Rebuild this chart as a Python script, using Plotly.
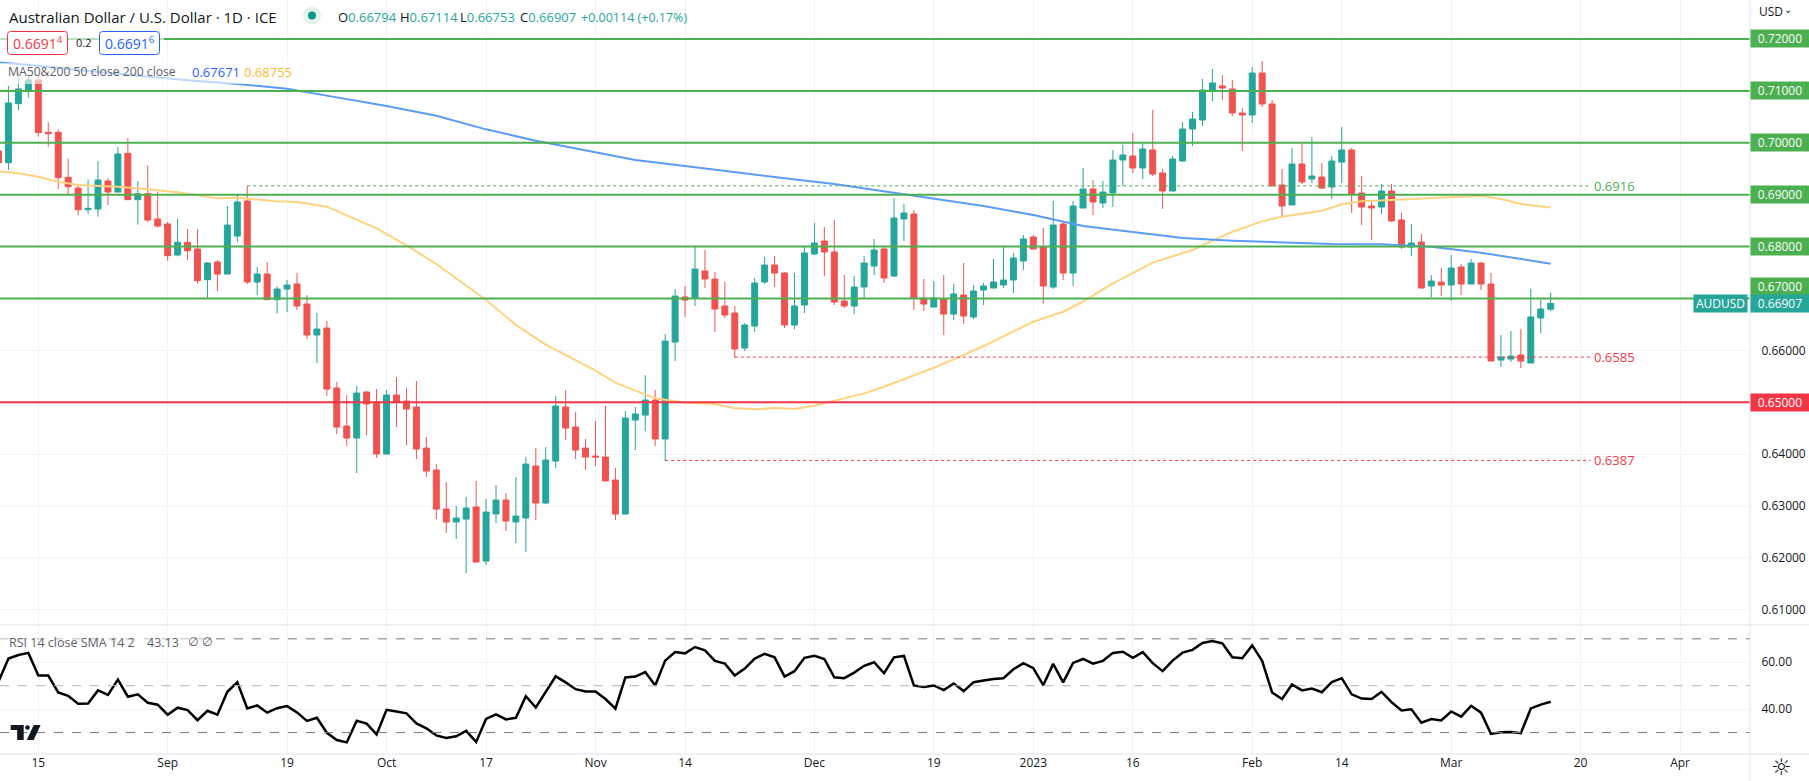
import pandas as pd
import plotly.graph_objects as go
from plotly.subplots import make_subplots

W, H = 1809, 781
PLOT_W, PLOT_H = 1750, 754
FONT = "Open Sans"

UP = "#26a69a"
DOWN = "#ef5350"
GREEN = "#4caf50"
RED = "#f23645"
GRID = "#f0f3fa"
BORDER = "#e0e3eb"
TEXT = "#131722"

# one business day per bar, the tail has no prices (empty space on the right)
all_dates = pd.bdate_range("2022-08-09", "2023-04-12").strftime("%Y-%m-%d").tolist()

open_ = [
    .69842, .69617, .70754, .71018, .71210, .70201, .70201, .69334, .69128, .68711,
    .68724, .69263, .69051, .69796, .68904, .69019, .68531, .68435, .67837, .68082,
    .67953, .67362, .67703, .67471, .68203, .68878, .67317, .67471, .66977, .67182,
    .67279, .66893, .66296, .66431, .65275, .64542, .64311, .65198, .65005, .64003,
    .65140, .65024, .64909, .64118, .63695, .62943, .62693, .62750, .62982, .61941,
    .62847, .63116, .62693, .62770, .63772, .63059, .63868, .64909, .64523, .64118,
    .63964, .63945, .63502, .62847, .64658, .64754, .65043, .64292, .66161, .67028,
    .67009, .67529, .67375, .66855, .66720, .66045, .66469, .67317, .67645, .67491,
    .66489, .66874, .67857, .68107, .67895, .66951, .66855, .67221, .67625, .67953,
    .67433, .68531, .68627, .67009, .66835, .66990, .66701, .67067, .66643, .67163,
    .67201, .67259, .67356, .67722, .68184, .67992, .67221, .68435, .67491, .68743,
    .69109, .68839, .69032, .69668, .69745, .69514, .69861, .69417, .69071, .69649,
    .70265, .70439, .71017, .71094, .71036, .70574, .70535, .71344, .70747, .69186,
    .68801, .69591, .69302, .69340, .69148, .69629, .69861, .69032, .68782, .68762,
    .69071, .68512, .67992, .68088, .67240, .67317, .67259, .67606, .67279, .67683,
    .67279, .65814, .65833, .65911, .65756, .66624, .66794,
]
high = [
    .69880, .71095, .71371, .71307, .71262, .70394, .70259, .69700, .69199, .69295,
    .69642, .69315, .69918, .70092, .69257, .69565, .69058, .68473, .68544, .68338,
    .68338, .67703, .67741, .68782, .68994, .69173, .67606, .67703, .67240, .67356,
    .67491, .67067, .66720, .66566, .65390, .65140, .65313, .65217, .65255, .65236,
    .65487, .65275, .65409, .64330, .63810, .63463, .63001, .63174, .63483, .63136,
    .63406, .63251, .63560, .63945, .64118, .64138, .65120, .65236, .64812, .64292,
    .64639, .64928, .63733, .64831, .64909, .65525, .65236, .66315, .67182, .67240,
    .68011, .67934, .67510, .67317, .66855, .66527, .67394, .67799, .67818, .67510,
    .67491, .68011, .68454, .68377, .68512, .67452, .67433, .67818, .68146, .67992,
    .68936, .68820, .68705, .67375, .67336, .67452, .67279, .67683, .67259, .67298,
    .67760, .68011, .67876, .68223, .68223, .68358, .68878, .68473, .68878, .69514,
    .69283, .69263, .69861, .69957, .70188, .69976, .70631, .69495, .69745, .70400,
    .70593, .71229, .71421, .71306, .71209, .70670, .71460, .71576, .70824, .69495,
    .69899, .69976, .70111, .69610, .69745, .70304, .69899, .69360, .68859, .69206,
    .69206, .68647, .68435, .68242, .67452, .67587, .67837, .67664, .67760, .67703,
    .67491, .66296, .66373, .66411, .67182, .66970, .67114,
]
low = [
    .69572, .69476, .70632, .70870, .70119, .69925, .69109, .68994, .68608, .68627,
    .68576, .68801, .69045, .68897, .68422, .68473, .68364, .67728, .67812, .67741,
    .67285, .67015, .67144, .67471, .68088, .67279, .67067, .66977, .66707, .66739,
    .66778, .66219, .65756, .65120, .64388, .64157, .63637, .64369, .63926, .64003,
    .64523, .64176, .63907, .63560, .62750, .62481, .62365, .61710, .61922, .61864,
    .62673, .62519, .62288, .62115, .62731, .63039, .63733, .64273, .63907, .63695,
    .63772, .63483, .62731, .62847, .64080, .64446, .64157, .63868, .65795, .66643,
    .66855, .67201, .66354, .66624, .65853, .65988, .66354, .67279, .67221, .66431,
    .66411, .66720, .67837, .67433, .66874, .66816, .66701, .67009, .67452, .67298,
    .67413, .68107, .66778, .66758, .66835, .66296, .66585, .66508, .66604, .66874,
    .67201, .67201, .67105, .67548, .67953, .66893, .67182, .67356, .67240, .68743,
    .68608, .68743, .68762, .69167, .69417, .69302, .69360, .68724, .69071, .69629,
    .69938, .70323, .70805, .70824, .70516, .69841, .70381, .70689, .69167, .68570,
    .68801, .69206, .69225, .69109, .68916, .69225, .68647, .68415, .68126, .68627,
    .68473, .67953, .67818, .67201, .67028, .67047, .66951, .67067, .67279, .67163,
    .65795, .65679, .65776, .65660, .65756, .66334, .66753,
]
close = [
    .69617, .70767, .71037, .71210, .70196, .70175, .69328, .69154, .68711, .68737,
    .69283, .69051, .69784, .68904, .69019, .68512, .68396, .67825, .68082, .67921,
    .67343, .67683, .67471, .68415, .68859, .67317, .67471, .66977, .67182, .67259,
    .66855, .66296, .66411, .65255, .64523, .64311, .65178, .64966, .64003, .65140,
    .65005, .64870, .64099, .63675, .62943, .62693, .62770, .62962, .61922, .62885,
    .63116, .62712, .62808, .63810, .63059, .63887, .64928, .64504, .64080, .63945,
    .63945, .63483, .62847, .64697, .64774, .65043, .64292, .66180, .67047, .66970,
    .67568, .67375, .66797, .66681, .66026, .66489, .67298, .67645, .67491, .66489,
    .66855, .67876, .68069, .67895, .66932, .66855, .67221, .67683, .67934, .67394,
    .68550, .68647, .67009, .66893, .67009, .66701, .67086, .66662, .67144, .67240,
    .67317, .67356, .67780, .68146, .67953, .67240, .68415, .67491, .68782, .69109,
    .68859, .69051, .69668, .69764, .69514, .69880, .69398, .69071, .69687, .70265,
    .70458, .71017, .71152, .71055, .70574, .70535, .71344, .70747, .69167, .68782,
    .69591, .69244, .69360, .69128, .69649, .69861, .69013, .68762, .68743, .69071,
    .68493, .67992, .68069, .67201, .67336, .67259, .67587, .67279, .67683, .67279,
    .65795, .65872, .65891, .65795, .66643, .66797, .66907,
]

rsi = [
    51.8, 61.6, 63.1, 64.0, 54.3, 54.3, 47.1, 45.7, 42.3, 42.4,
    48.0, 46.1, 52.6, 45.3, 46.3, 42.7, 41.9, 37.6, 40.6, 39.6,
    35.3, 39.3, 37.6, 47.4, 51.5, 40.3, 41.6, 38.5, 40.4, 41.3,
    38.6, 35.0, 36.3, 29.9, 26.8, 25.8, 35.0, 33.8, 29.2, 39.7,
    39.0, 38.2, 33.9, 31.8, 28.8, 27.7, 28.4, 30.7, 26.0, 35.8,
    37.8, 35.6, 36.3, 45.5, 40.7, 47.2, 54.0, 51.4, 48.5, 47.5,
    47.5, 44.3, 40.2, 53.5, 53.9, 55.8, 50.1, 60.7, 64.4, 63.8,
    66.5, 65.1, 60.6, 59.4, 54.3, 57.3, 61.6, 63.6, 62.1, 53.9,
    56.2, 61.9, 62.8, 61.4, 53.6, 53.2, 55.6, 58.5, 60.0, 55.3,
    62.1, 62.7, 50.1, 49.4, 50.1, 48.1, 50.9, 47.7, 51.5, 52.2,
    52.9, 53.2, 57.0, 59.6, 57.5, 50.2, 59.3, 51.4, 59.7, 61.4,
    59.4, 60.6, 64.0, 64.5, 61.9, 64.3, 59.6, 56.2, 60.7, 64.1,
    65.3, 68.2, 69.1, 68.1, 62.1, 61.7, 67.2, 60.6, 47.1, 44.3,
    50.5, 48.0, 48.8, 47.2, 51.5, 53.2, 46.3, 44.5, 44.3, 47.4,
    43.0, 39.4, 39.9, 34.2, 35.8, 35.2, 39.0, 36.8, 41.4, 38.5,
    29.4, 30.1, 30.2, 29.7, 40.3, 41.9, 43.13,
]

ma200_dates = [
    "2022-08-09", "2022-08-15", "2022-08-22", "2022-08-29", "2022-09-05", "2022-09-12",
    "2022-09-19", "2022-09-26", "2022-10-03", "2022-10-10", "2022-10-17", "2022-10-24",
    "2022-10-31", "2022-11-07", "2022-11-14", "2022-11-21", "2022-11-28", "2022-12-05",
    "2022-12-12", "2022-12-19", "2022-12-26", "2023-01-02", "2023-01-09", "2023-01-16",
    "2023-01-23", "2023-01-30", "2023-02-06", "2023-02-13", "2023-02-20", "2023-02-27",
    "2023-03-06", "2023-03-13", "2023-03-15",
]
ma200 = [
    .71550, .71486, .71383, .71287, .71203, .71132,
    .71042, .70875, .70708, .70522, .70259, .70040,
    .69854, .69668, .69552, .69430, .69315, .69205,
    .69064, .68936, .68782, .68608, .68396, .68281,
    .68165, .68114, .68088, .68049, .68043, .67998,
    .67882, .67735, .67671,
]
ma50_dates = [
    "2022-08-09", "2022-08-11", "2022-08-15", "2022-08-17", "2022-08-19", "2022-08-25",
    "2022-08-30", "2022-09-02", "2022-09-08", "2022-09-12", "2022-09-16", "2022-09-20",
    "2022-09-23", "2022-09-27", "2022-09-30", "2022-10-05", "2022-10-10", "2022-10-17",
    "2022-10-20", "2022-10-25", "2022-10-28", "2022-11-01", "2022-11-03", "2022-11-07",
    "2022-11-09", "2022-11-14", "2022-11-17", "2022-11-21", "2022-11-23", "2022-11-25",
    "2022-11-29", "2022-12-01", "2022-12-05", "2022-12-08", "2022-12-12", "2022-12-15",
    "2022-12-19", "2022-12-21", "2022-12-26", "2023-01-02", "2023-01-05", "2023-01-09",
    "2023-01-12", "2023-01-18", "2023-01-24", "2023-01-30", "2023-02-02", "2023-02-06",
    "2023-02-08", "2023-02-10", "2023-02-14", "2023-02-16", "2023-02-21", "2023-02-27",
    "2023-03-06", "2023-03-08", "2023-03-10", "2023-03-15",
]
ma50 = [
    .69450, .69411, .69347, .69250, .69186, .69154,
    .69103, .69045, .68929, .68942, .68872, .68859,
    .68769, .68608, .68351, .68024, .67664, .66970,
    .66489, .66110, .65814, .65609, .65377, .65223,
    .65076, .64992, .64966, .64883, .64864, .64889,
    .64870, .64934, .65024, .65172, .65300, .65512,
    .65666, .65827, .66084, .66553, .66745, .66938,
    .67291, .67690, .67934, .68287, .68486, .68576,
    .68640, .68692, .68814, .68872, .68897, .68929,
    .68981, .68916, .68820, .68755,
]

# round level lines and their price-scale labels
green_levels = [0.72, 0.71, 0.70, 0.69, 0.68, 0.67]
red_levels = [0.65]
price_ticks = [0.61, 0.62, 0.63, 0.64, 0.66]
rsi_ticks = [40, 60]

swing_levels = [0.6917, 0.6587, 0.6388]
swing_labels = ["0.6916", "0.6585", "0.6387"]
swing_starts = ["2022-09-13", "2022-11-21", "2022-11-10"]
swing_colors = [GREEN, RED, RED]
swing_end = "2023-03-21"

tick_dates = [
    "2022-08-15", "2022-09-01", "2022-09-19", "2022-10-03", "2022-10-17", "2022-11-01",
    "2022-11-14", "2022-12-01", "2022-12-19", "2023-01-02", "2023-01-16", "2023-02-01",
    "2023-02-14", "2023-03-01", "2023-03-20", "2023-04-03",
]
tick_labels = ["15", "Sep", "19", "Oct", "17", "Nov", "14", "Dec", "19", "2023", "16",
               "Feb", "14", "Mar", "20", "Apr"]

ohlc_names = ["O", "H", "L", "C"]
ohlc_values = ["0.66794", "0.67114", "0.66753", "0.66907"]


def px(x):
    return x / PLOT_W


def py(y):
    return (PLOT_H - y) / PLOT_H


def note(text, x, y, color=TEXT, size=13, anchor="left", family=FONT):
    fig.add_annotation(text=text, x=px(x), y=py(y), xref="paper", yref="paper", showarrow=False,
                       xanchor=anchor, yanchor="middle", font=dict(family=family, size=size, color=color))


def mask(x0, y0, x1, y1, opacity=0.6):
    fig.add_shape(type="rect", xref="paper", yref="paper", x0=px(x0), x1=px(x1), y0=py(y0), y1=py(y1),
                  fillcolor="white", opacity=opacity, line_width=0)


def round_box(x0, y0, x1, y1, color, r=3):
    a, b, c, d = px(x0), px(x1), py(y0), py(y1)
    rx, ry = r / PLOT_W, r / PLOT_H
    path = (f"M {a+rx} {c} L {b-rx} {c} Q {b} {c} {b} {c-ry} L {b} {d+ry} Q {b} {d} {b-rx} {d} "
            f"L {a+rx} {d} Q {a} {d} {a} {d+ry} L {a} {c-ry} Q {a} {c} {a+rx} {c} Z")
    fig.add_shape(type="path", path=path, xref="paper", yref="paper", fillcolor="white",
                  line=dict(color=color, width=1))


def price_label(level, bg, yshift=0):
    fig.add_annotation(text=f"{level:.5f}", x=1, y=level, xref="paper", yref="y", xanchor="left",
                       yanchor="middle", yshift=yshift, showarrow=False, bgcolor=bg, width=56, height=15,
                       font=dict(family=FONT, size=12, color="white"))


fig = make_subplots(rows=2, cols=1, shared_xaxes=True, vertical_spacing=0, row_heights=[625, 129])

n_bars = len(close)
fig.add_trace(go.Candlestick(
    x=all_dates[:n_bars], open=open_, high=high, low=low, close=close,
    increasing=dict(line=dict(color=UP, width=1), fillcolor=UP),
    decreasing=dict(line=dict(color=DOWN, width=1), fillcolor=DOWN),
    whiskerwidth=0,
), row=1, col=1)
fig.add_trace(go.Scatter(x=ma50_dates, y=ma50, mode="lines", line=dict(color="#ffd27f", width=2)), row=1, col=1)
fig.add_trace(go.Scatter(x=ma200_dates, y=ma200, mode="lines", line=dict(color="#5b9cf6", width=2)), row=1, col=1)
fig.add_trace(go.Scatter(x=all_dates[:n_bars], y=rsi, mode="lines", line=dict(color="black", width=2.5)), row=2, col=1)

# level lines
for level in green_levels:
    fig.add_shape(type="line", xref="x domain", yref="y", x0=0, x1=1, y0=level, y1=level,
                  line=dict(color=GREEN, width=2))
for level in red_levels:
    fig.add_shape(type="line", xref="x domain", yref="y", x0=0, x1=1, y0=level, y1=level,
                  line=dict(color=RED, width=2))
for level, label, start, color in zip(swing_levels, swing_labels, swing_starts, swing_colors):
    fig.add_shape(type="line", xref="x", yref="y", x0=start, x1=swing_end, y0=level, y1=level,
                  line=dict(color=color, width=1, dash="dot"))
    fig.add_annotation(text=label, x=swing_end, y=level, xref="x", yref="y", xanchor="left", yanchor="middle",
                       xshift=1, showarrow=False, font=dict(family=FONT, size=13, color=color))

# rsi bands
for value, color in zip([70, 50, 30], ["#787b86", "#b2b5be", "#787b86"]):
    fig.add_shape(type="line", xref="x2 domain", yref="y2", x0=0, x1=1, y0=value, y1=value,
                  line=dict(color=color, width=1, dash="dash"))

# pane separators and price-scale border
fig.add_shape(type="line", xref="paper", yref="paper", x0=0, x1=W / PLOT_W, y0=py(625), y1=py(625),
              line=dict(color=BORDER, width=1))
fig.add_shape(type="line", xref="paper", yref="paper", x0=0, x1=W / PLOT_W, y0=py(754), y1=py(754),
              line=dict(color=BORDER, width=1))
fig.add_shape(type="line", xref="paper", yref="paper", x0=1, x1=1, y0=py(H), y1=1,
              line=dict(color=BORDER, width=1))

# legend backdrops
mask(0, 30, 164, 56)
mask(0, 63, 290, 84)
mask(0, 634, 207, 650, opacity=0.5)

# header
note("Australian Dollar / U.S. Dollar · 1D · ICE", 6.5, 17, size=15)
fig.add_shape(type="circle", xref="paper", yref="paper", x0=px(303), x1=px(321), y0=py(6.5), y1=py(24.5),
              fillcolor="#e3f3f0", line_width=0)
fig.add_shape(type="circle", xref="paper", yref="paper", x0=px(308), x1=px(316), y0=py(11.5), y1=py(19.5),
              fillcolor="#089981", line_width=0)
for name, value, x in zip(ohlc_names, ohlc_values, [336, 398, 458, 518]):
    note(f'{name}<span style="color:{UP}">{value}</span>', x, 17, size=13)
note("+0.00114 (+0.17%)", 579, 17, color=UP, size=12.5)

round_box(7.5, 31.5, 67.5, 54.5, RED)
note("0.6691<sup>4</sup>", 37.5, 43, color=RED, size=14, anchor="center")
note("0.2", 83.5, 43, size=11, anchor="center")
round_box(99.5, 31.5, 159.5, 54.5, "#2962ff")
note("0.6691<sup>6</sup>", 129.5, 43, color="#2962ff", size=14, anchor="center")

note("MA50&200 50 close 200 close", 6, 72, color="#5d606b", size=12.2)
note("0.67671", 190, 72, color="#2962ff", size=13)
note("0.68755", 242, 72, color="#ffb92e", size=13)
note("RSI 14 close SMA 14 2", 6.5, 642, color="#5d606b", size=12.5)
note("43.13", 145, 642, color="#5d606b", size=12.5)
note("∅", 186, 642, color="#5d606b", size=12, family="DejaVu Sans")
note("∅", 200, 642, color="#5d606b", size=12, family="DejaVu Sans")

# price-scale labels
for level in green_levels:
    price_label(level, GREEN, yshift=12 if level == 0.67 else 0)
for level in red_levels:
    price_label(level, RED)
price_label(close[-1], UP)
fig.add_annotation(text="AUDUSD", x=1748 / PLOT_W, y=close[-1], xref="paper", yref="y", xanchor="right",
                   yanchor="middle", showarrow=False, bgcolor=UP, width=51, height=15,
                   font=dict(family=FONT, size=12, color="white"))
note("USD", 1757, 12, size=12)
note("⌄", 1782, 9, size=10, family="DejaVu Sans")
note("☼", 1781, 767, size=23, anchor="center", family="DejaVu Sans")

# tradingview mark
fig.add_shape(type="path", xref="paper", yref="paper", fillcolor=TEXT, line_width=0,
              path=f"M {px(10.7)} {py(725)} L {px(23.7)} {py(725)} L {px(23.7)} {py(740)} L {px(17.2)} {py(740)} "
                   f"L {px(17.2)} {py(730)} L {px(10.7)} {py(730)} Z")
fig.add_shape(type="circle", xref="paper", yref="paper", fillcolor=TEXT, line_width=0,
              x0=px(25.2), x1=px(29.8), y0=py(725.2), y1=py(729.8))
fig.add_shape(type="path", xref="paper", yref="paper", fillcolor=TEXT, line_width=0,
              path=f"M {px(33.7)} {py(725)} L {px(40.6)} {py(725)} L {px(33.7)} {py(740)} L {px(26.8)} {py(740)} Z")

fig.update_xaxes(type="category", categoryorder="array", categoryarray=all_dates,
                 range=[0.15, 176.03], tickmode="array", tickvals=tick_dates, ticktext=tick_labels,
                 showgrid=True, gridcolor=GRID, gridwidth=1, zeroline=False, showline=False,
                 rangeslider_visible=False, ticks="", tickfont=dict(family=FONT, size=12, color=TEXT))
fig.update_yaxes(side="right", showgrid=True, gridcolor=GRID, gridwidth=1, zeroline=False, showline=False,
                 ticks="outside", ticklen=8, tickcolor="white", tickfont=dict(family=FONT, size=12, color=TEXT))
fig.update_yaxes(range=[0.60709, 0.72751], tickmode="array", tickvals=price_ticks,
                 tickformat=".5f", row=1, col=1)
fig.update_yaxes(range=[20.85, 75.9], tickmode="array", tickvals=rsi_ticks, tickformat=".2f", row=2, col=1)

fig.update_layout(width=W, height=H, margin=dict(l=0, r=W - PLOT_W, t=0, b=H - PLOT_H),
                  paper_bgcolor="white", plot_bgcolor="white", showlegend=False, hovermode=False,
                  boxgap=0.4, boxgroupgap=0)

fig.write_html("out.html", config={"displayModeBar": False}, post_script="document.body.style.margin='0';")
